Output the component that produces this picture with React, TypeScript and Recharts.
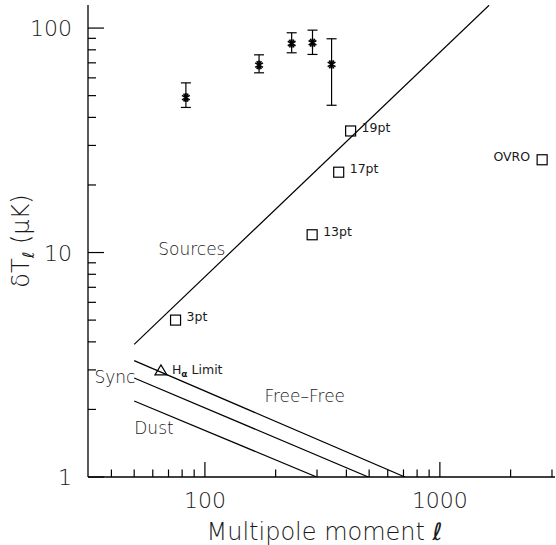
import React from 'react'
import {
   ComposedChart,
   Line,
   Scatter,
   XAxis,
   YAxis,
   ErrorBar,
   ReferenceDot,
   Label,
} from 'recharts'

const FONT = '"DejaVu Sans", sans-serif'
const INK = '#1a1a1a'
const LIGHT = 200

// axis ticks (log scales)
const xTicks = [40, 50, 60, 70, 80, 90, 100, 200, 300, 400, 500, 600, 700, 800, 900, 1000, 2000, 3000]
const xMajor = [100, 1000]
const yTicks = [1, 2, 3, 4, 5, 6, 7, 8, 9, 10, 20, 30, 40, 50, 60, 70, 80, 90, 100]
const yMajor = [1, 10, 100]

// model curves
const sources = [
   { l: 50, t: 3.9 },
   { l: 1620, t: 126.4 },
]
const freeFree = [
   { l: 50, t: 3.3 },
   { l: 710, t: 1 },
]
const sync = [
   { l: 50, t: 2.76 },
   { l: 496, t: 1 },
]
const dust = [
   { l: 50, t: 2.18 },
   { l: 299, t: 1 },
]

// detections with error bars
const detL = [83, 170, 234, 287, 346]
const detT = [49.0, 68.4, 85.4, 86.0, 68.9]
const detLo = [44.3, 63.2, 77.6, 76.3, 45.3]
const detHi = [57.0, 76.0, 95.3, 97.9, 89.6]

// square points
const sqNames = ['3pt', '13pt', '17pt', '19pt', 'OVRO']
const sqL = [75, 286, 371, 417, 2724]
const sqT = [5.0, 12.0, 22.8, 34.8, 25.9]

// H-alpha limit
const haL = [65]
const haT = [3.0]

const detections = detL.map((l, i) => ({
   l,
   t: detT[i],
   err: [detT[i] - detLo[i], detHi[i] - detT[i]],
}))
const squares = sqL.map((l, i) => ({ l, t: sqT[i], name: sqNames[i] }))
const haLimit = haL.map((l, i) => ({ l, t: haT[i] }))

const XTick = (props: any) => {
   const { x, y, payload, top } = props
   const major = xMajor.includes(payload.value)
   const len = major ? 15 : 7.5
   const dir = top ? 1 : -1
   return (
      <g>
         <line x1={x} y1={y} x2={x} y2={y + dir * len} stroke="#000" strokeWidth={1.2} />
         {!top && major && (
            <text x={x} y={y + 31} textAnchor="middle" fontSize={22} fontWeight={LIGHT} fontFamily={FONT} fill={INK}>
               {payload.value}
            </text>
         )}
      </g>
   )
}

const YTick = (props: any) => {
   const { x, y, payload, right } = props
   const major = yMajor.includes(payload.value)
   const len = major ? 16 : 8
   const dir = right ? -1 : 1
   return (
      <g>
         <line x1={x} y1={y} x2={x + dir * len} y2={y} stroke="#000" strokeWidth={1.2} />
         {!right && major && (
            <text x={x - 16} y={y + 8} textAnchor="end" fontSize={22} fontWeight={LIGHT} fontFamily={FONT} fill={INK}>
               {payload.value}
            </text>
         )}
      </g>
   )
}

const Star = (props: any) => {
   const { cx, cy } = props
   const r = 4.5
   const a = r * 0.866
   const b = r * 0.5
   return (
      <g stroke="#000" strokeWidth={1.6}>
         <line x1={cx} y1={cy - r} x2={cx} y2={cy + r} />
         <line x1={cx - a} y1={cy - b} x2={cx + a} y2={cy + b} />
         <line x1={cx - a} y1={cy + b} x2={cx + a} y2={cy - b} />
         <line x1={cx - b} y1={cy - a} x2={cx + b} y2={cy + a} />
         <line x1={cx - b} y1={cy + a} x2={cx + b} y2={cy - a} />
      </g>
   )
}

const Square = (props: any) => {
   const { cx, cy, payload } = props
   const left = payload.name === 'OVRO'
   return (
      <g>
         <rect x={cx - 5} y={cy - 5} width={10} height={10} fill="none" stroke="#000" strokeWidth={1.2} />
         <text
            x={left ? cx - 12 : cx + 11}
            y={cy + 1}
            textAnchor={left ? 'end' : 'start'}
            fontSize={12.5}
            fontFamily={FONT}
            fill={INK}
         >
            {payload.name}
         </text>
      </g>
   )
}

const Triangle = (props: any) => {
   const { cx, cy } = props
   return (
      <g>
         <path
            d={`M${cx - 6},${cy + 5} L${cx + 6},${cy + 5} L${cx},${cy - 5} Z`}
            fill="none"
            stroke="#000"
            strokeWidth={1.2}
         />
         <text x={cx + 11} y={cy + 4} fontSize={12.5} fontFamily={FONT} fill={INK}>
            H
            <tspan fontSize={9} fontWeight="bold" dy={3}>
               α
            </tspan>
            <tspan dy={-3}>  Limit</tspan>
         </text>
      </g>
   )
}

const note = (value: string) => (p: any) => {
   const vb = p.viewBox
   return (
      <text
         x={vb.x + vb.width / 2}
         y={vb.y + vb.height / 2 + 6}
         textAnchor="middle"
         fontSize={17}
         fontWeight={LIGHT}
         fontFamily={FONT}
         fill={INK}
      >
         {value}
      </text>
   )
}

export default function App() {
   return (
      <div style={{ position: 'absolute', left: 0, top: 0, background: '#fff' }}>
         <ComposedChart width={556} height={545} margin={{ top: 5, right: 1, bottom: 0, left: 0 }}>
            <XAxis
               xAxisId="b"
               dataKey="l"
               type="number"
               scale="log"
               domain={[31.8, 3090]}
               allowDataOverflow
               ticks={xTicks}
               interval={0}
               height={68}
               tickSize={0}
               tickMargin={0}
               tickLine={false}
               axisLine={{ stroke: '#000', strokeWidth: 1.3 }}
               tick={<XTick />}
            >
               <Label
                  content={(p: any) => (
                     <text
                        x={p.viewBox.x + p.viewBox.width / 2 + 3}
                        y={p.viewBox.y + 63}
                        textAnchor="middle"
                        fontSize={24}
                        fontWeight={LIGHT}
                        fontFamily={FONT}
                        fill={INK}
                     >
                        Multipole moment <tspan fontWeight={400} fontStyle="italic">ℓ</tspan>
                     </text>
                  )}
               />
            </XAxis>
            <XAxis
               xAxisId="t"
               orientation="top"
               type="number"
               scale="log"
               domain={[31.8, 3090]}
               allowDataOverflow
               ticks={xTicks}
               interval={0}
               height={0}
               tickSize={0}
               tickMargin={0}
               tickLine={false}
               axisLine={{ stroke: '#000', strokeWidth: 1.3 }}
               tick={<XTick top />}
            />
            <YAxis
               yAxisId="l"
               dataKey="t"
               type="number"
               scale="log"
               domain={[1, 126.7]}
               allowDataOverflow
               ticks={yTicks}
               interval={0}
               width={88}
               tickSize={0}
               tickMargin={0}
               tickLine={false}
               axisLine={{ stroke: '#000', strokeWidth: 1.3 }}
               tick={<YTick />}
            >
               <Label
                  content={(p: any) => {
                     const cx = 28.5
                     const cy = p.viewBox.y + p.viewBox.height / 2
                     return (
                        <text
                           x={cx}
                           y={cy}
                           transform={`rotate(-90, ${cx}, ${cy})`}
                           textAnchor="middle"
                           fontSize={24}
                           fontWeight={LIGHT}
                           fontFamily={FONT}
                           fill={INK}
                        >
                           δT
                           <tspan fontSize={16} fontWeight={400} fontStyle="italic" dy={5}>
                              ℓ
                           </tspan>
                           <tspan dy={-5}> (μK)</tspan>
                        </text>
                     )
                  }}
               />
            </YAxis>
            <YAxis
               yAxisId="r"
               orientation="right"
               type="number"
               scale="log"
               domain={[1, 126.7]}
               allowDataOverflow
               ticks={yTicks}
               interval={0}
               width={0}
               tickSize={0}
               tickMargin={0}
               tickLine={false}
               axisLine={{ stroke: '#000', strokeWidth: 1.3 }}
               tick={<YTick right />}
            />

            <Line xAxisId="b" yAxisId="l" data={sources} dataKey="t" stroke="#000" strokeWidth={1.2} dot={false} isAnimationActive={false} />
            <Line xAxisId="b" yAxisId="l" data={freeFree} dataKey="t" stroke="#000" strokeWidth={1.2} dot={false} isAnimationActive={false} />
            <Line xAxisId="b" yAxisId="l" data={sync} dataKey="t" stroke="#000" strokeWidth={1.2} dot={false} isAnimationActive={false} />
            <Line xAxisId="b" yAxisId="l" data={dust} dataKey="t" stroke="#000" strokeWidth={1.2} dot={false} isAnimationActive={false} />

            <Scatter xAxisId="b" yAxisId="l" data={detections} dataKey="t" shape={<Star />} isAnimationActive={false}>
               <ErrorBar dataKey="err" direction="y" width={5} stroke="#000" strokeWidth={1.2} isAnimationActive={false} />
            </Scatter>
            <Scatter xAxisId="b" yAxisId="l" data={squares} dataKey="t" shape={<Square />} isAnimationActive={false} />
            <Scatter xAxisId="b" yAxisId="l" data={haLimit} dataKey="t" shape={<Triangle />} isAnimationActive={false} />

            <ReferenceDot xAxisId="b" yAxisId="l" x={88} y={10.4} r={0} label={note('Sources')} />
            <ReferenceDot xAxisId="b" yAxisId="l" x={41.4} y={2.8} r={0} label={note('Sync')} />
            <ReferenceDot xAxisId="b" yAxisId="l" x={266} y={2.3} r={0} label={note('Free–Free')} />
            <ReferenceDot xAxisId="b" yAxisId="l" x={60.7} y={1.655} r={0} label={note('Dust')} />
         </ComposedChart>
      </div>
   )
}
